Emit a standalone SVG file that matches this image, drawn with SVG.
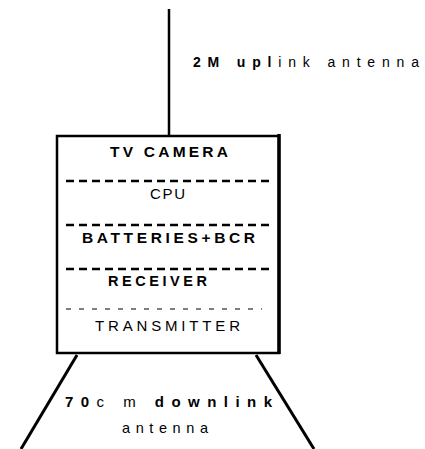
<svg xmlns="http://www.w3.org/2000/svg" width="425" height="449" viewBox="0 0 425 449">
<style>
.t{font-family:"Liberation Sans",Arial,sans-serif;fill:#000}
.b{font-weight:bold}
.ln{stroke:#000;fill:none;stroke-linecap:butt}
.dash{stroke:#000;stroke-width:2.5;stroke-dasharray:8 5}
.dash2{stroke:#000;stroke-width:1.2;stroke-dasharray:5 8}
</style>
<rect width="425" height="449" fill="#fff"/>
<g id="connectors">
<line class="ln" x1="169" y1="9" x2="169" y2="136" stroke-width="2.5"/>
<line class="ln" x1="77" y1="355" x2="21" y2="449" stroke-width="3"/>
<line class="ln" x1="256" y1="355" x2="314" y2="449" stroke-width="3"/>
</g>
<g id="uplink-label">
<text class="t" x="193" y="67" font-size="14" textLength="226" lengthAdjust="spacing"><tspan class="b">2M upl</tspan>ink antenna</text>
</g>
<g id="satellite">
<rect x="57" y="136" width="222" height="217" fill="none" stroke="#000" stroke-width="2.5"/>
<line x1="279" y1="134" x2="279" y2="354" stroke="#000" stroke-width="3.5"/>
<text class="t b" x="110" y="157" font-size="15.5" textLength="118" lengthAdjust="spacing">TV CAMERA</text>
<line class="dash" x1="66" y1="181" x2="270" y2="181"/>
<text class="t" x="150" y="199" font-size="15" textLength="35" lengthAdjust="spacing">CPU</text>
<line class="dash" x1="66" y1="225" x2="270" y2="225"/>
<text class="t b" x="82" y="243" font-size="15.5" textLength="173" lengthAdjust="spacing">BATTERIES+BCR</text>
<line class="dash" x1="66" y1="269" x2="270" y2="269"/>
<text class="t b" x="108" y="286" font-size="14.5" textLength="99" lengthAdjust="spacing">RECEIVER</text>
<line class="dash2" x1="66" y1="309" x2="262" y2="309"/>
<text class="t" x="95" y="331" font-size="15" textLength="145" lengthAdjust="spacing">TRANSMITTER</text>
</g>
<g id="downlink-label">
<text class="t" x="65" y="407" font-size="15" textLength="207" lengthAdjust="spacing"><tspan class="b">70</tspan>c m <tspan class="b">downlink</tspan></text>
<text class="t" x="122" y="433" font-size="14.5" textLength="86" lengthAdjust="spacing">antenna</text>
</g>
</svg>
